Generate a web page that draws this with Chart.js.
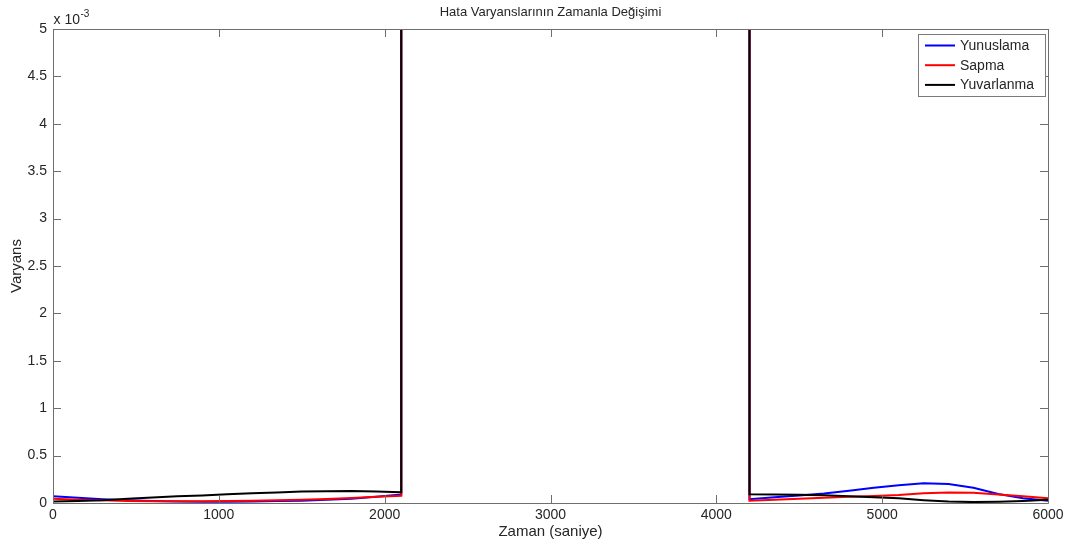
<!DOCTYPE html>
<html>
<head>
<meta charset="utf-8">
<script src="https://cdn.jsdelivr.net/npm/chart.js@4/dist/chart.umd.min.js"></script>
<style>
html,body{margin:0;padding:0;background:#fff;}
#wrap{width:1073px;height:550px;}
</style>
</head>
<body>
<div id="wrap"><canvas id="c" width="1073" height="550"></canvas></div>
<script>
// Values in units of 1e-3 (axis shows "x 10^-3")
const chartTitle = "Hata Varyanslarının Zamanla Değişimi";
const xTitle = "Zaman (saniye)";
const yTitle = "Varyans";
const seriesNames = ["Yunuslama", "Sapma", "Yuvarlanma"];
const seriesColors = ["#0000ff", "#ff0000", "#000000"];

const xLeft  = [0, 150, 300, 450, 600, 750, 900, 1050, 1200, 1350, 1500, 1650, 1800, 1950, 2100];
const xRight = [4200, 4350, 4500, 4650, 4800, 4950, 5100, 5250, 5400, 5550, 5700, 5850, 6000];
const offScale = 50; // values between 2100 s and 4200 s run far above the axis top

const yunuslamaLeft  = [0.070, 0.055, 0.040, 0.028, 0.020, 0.016, 0.014, 0.014, 0.016, 0.020, 0.025, 0.033, 0.045, 0.065, 0.090];
const sapmaLeft      = [0.045, 0.035, 0.028, 0.022, 0.019, 0.018, 0.018, 0.020, 0.023, 0.028, 0.034, 0.042, 0.052, 0.066, 0.077];
const yuvarlanmaLeft = [0.017, 0.022, 0.030, 0.045, 0.058, 0.070, 0.080, 0.093, 0.103, 0.112, 0.120, 0.125, 0.126, 0.120, 0.113];

const yunuslamaRight  = [0.040, 0.060, 0.080, 0.100, 0.130, 0.160, 0.188, 0.208, 0.200, 0.160, 0.095, 0.050, 0.025];
const sapmaRight      = [0.025, 0.035, 0.045, 0.055, 0.065, 0.075, 0.085, 0.103, 0.112, 0.107, 0.090, 0.070, 0.050];
const yuvarlanmaRight = [0.092, 0.090, 0.088, 0.082, 0.070, 0.060, 0.050, 0.030, 0.015, 0.010, 0.014, 0.022, 0.033];

const xTicks = [0, 1000, 2000, 3000, 4000, 5000, 6000];
const yTicks = [0, 0.5, 1, 1.5, 2, 2.5, 3, 3.5, 4, 4.5, 5];

function buildSeries(left, right) {
  const pts = xLeft.map((x, i) => ({x: x, y: left[i]}));
  pts.push({x: xLeft[xLeft.length - 1], y: offScale});
  pts.push({x: xRight[0], y: offScale});
  xRight.forEach((x, i) => pts.push({x: x, y: right[i]}));
  return pts;
}
const allLeft = [yunuslamaLeft, sapmaLeft, yuvarlanmaLeft];
const allRight = [yunuslamaRight, sapmaRight, yuvarlanmaRight];

const FONT = "'Liberation Sans', Arial, sans-serif";
const TEXT = "#262626";
const AXIS = "#6f6f6f";

const datasets = seriesNames.map((name, i) => ({
  label: name,
  data: buildSeries(allLeft[i], allRight[i]),
  borderColor: seriesColors[i],
  backgroundColor: seriesColors[i],
  borderWidth: 2,
  pointRadius: 0,
  tension: 0,
  fill: false,
  clip: 0,
  order: 3 - i
}));

const decorPlugin = {
  id: 'decor',
  afterDraw(chart) {
    const ctx = chart.ctx;
    const a = chart.chartArea;
    const xs = chart.scales.x, ys = chart.scales.y;
    ctx.save();
    // frame
    ctx.strokeStyle = AXIS;
    ctx.lineWidth = 1;
    ctx.beginPath();
    ctx.rect(Math.round(a.left) + 0.5, Math.round(a.top) + 0.5,
             Math.round(a.right - a.left), Math.round(a.bottom - a.top));
    ctx.stroke();
    // inward ticks
    const tl = 8;
    ctx.beginPath();
    xTicks.forEach(v => {
      const px = Math.round(xs.getPixelForValue(v)) + 0.5;
      ctx.moveTo(px, a.bottom); ctx.lineTo(px, a.bottom - tl);
      ctx.moveTo(px, a.top); ctx.lineTo(px, a.top + tl);
    });
    yTicks.forEach(v => {
      const py = Math.round(ys.getPixelForValue(v)) + 0.5;
      ctx.moveTo(a.left, py); ctx.lineTo(a.left + tl, py);
      ctx.moveTo(a.right, py); ctx.lineTo(a.right - tl, py);
    });
    ctx.stroke();
    // title
    ctx.fillStyle = TEXT;
    ctx.font = "13px " + FONT;
    ctx.textAlign = "center";
    ctx.textBaseline = "middle";
    ctx.fillText(chartTitle, (a.left + a.right) / 2, 12);
    // exponent label
    ctx.textAlign = "left";
    ctx.textBaseline = "alphabetic";
    ctx.font = "14px " + FONT;
    ctx.fillText("x 10", a.left + 0.5, 24);
    const w = ctx.measureText("x 10").width;
    ctx.font = "10px " + FONT;
    ctx.fillText("-3", a.left + 0.5 + w + 0.5, 17);
    // legend
    const lx = 918, ly = 34, lw = 127, lh = 62;
    ctx.fillStyle = "#fff";
    ctx.fillRect(lx, ly, lw, lh);
    ctx.strokeStyle = "#7a7a7a";
    ctx.lineWidth = 1;
    ctx.strokeRect(lx + 0.5, ly + 0.5, lw, lh);
    ctx.font = "14px " + FONT;
    ctx.textBaseline = "middle";
    seriesNames.forEach((name, i) => {
      const yy = 45.5 + i * 19.7;
      ctx.strokeStyle = seriesColors[i];
      ctx.lineWidth = 2;
      ctx.beginPath();
      ctx.moveTo(925, yy); ctx.lineTo(955, yy);
      ctx.stroke();
      ctx.fillStyle = TEXT;
      ctx.fillText(name, 960, yy + 0.5);
    });
    ctx.restore();
  }
};

new Chart(document.getElementById('c'), {
  type: 'line',
  data: { datasets: datasets },
  options: {
    responsive: false,
    animation: false,
    devicePixelRatio: 1,
    layout: { padding: { top: 29, right: 25, left: 0, bottom: 0 } },
    plugins: {
      legend: { display: false },
      title: { display: false },
      tooltip: { enabled: false }
    },
    scales: {
      x: {
        type: 'linear',
        min: 0, max: 6000,
        afterBuildTicks: s => { s.ticks = xTicks.map(v => ({value: v})); },
        afterFit: s => { s.height = 47; },
        grid: { display: false, drawTicks: false },
        border: { display: false },
        ticks: { color: TEXT, font: { family: FONT, size: 14 }, padding: 4, maxRotation: 0,
                 callback: v => String(v) },
        title: { display: true, text: xTitle, color: TEXT, font: { family: FONT, size: 15 }, padding: { top: 0, bottom: 9 } }
      },
      y: {
        type: 'linear',
        min: 0, max: 5,
        afterBuildTicks: s => { s.ticks = yTicks.map(v => ({value: v})); },
        afterFit: s => { s.width = 53; },
        grid: { display: false, drawTicks: false },
        border: { display: false },
        ticks: { color: TEXT, font: { family: FONT, size: 14 }, padding: 6,
                 callback: v => String(v) },
        title: { display: true, text: yTitle, color: TEXT, font: { family: FONT, size: 15 }, padding: { top: 8, bottom: 0 } }
      }
    }
  },
  plugins: [decorPlugin]
});
</script>
</body>
</html>
